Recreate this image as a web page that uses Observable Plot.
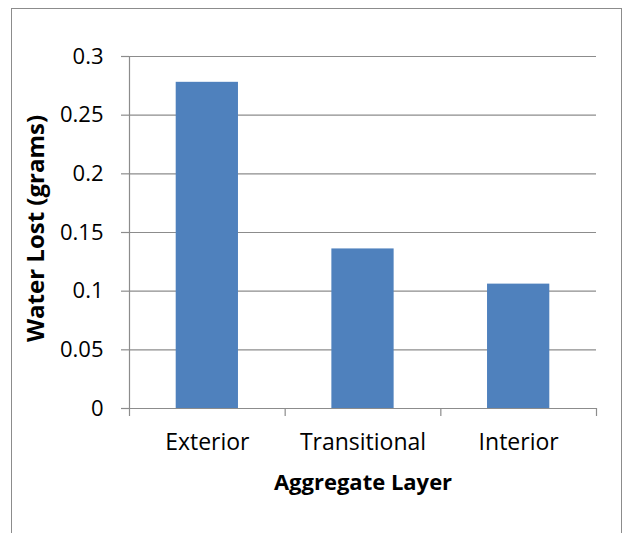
<!DOCTYPE html>
<html>
<head>
<meta charset="utf-8">
<script src="https://cdn.jsdelivr.net/npm/d3@7"></script>
<script src="https://cdn.jsdelivr.net/npm/@observablehq/plot@0.6"></script>
<style>
  html, body { margin: 0; padding: 0; background: #fff; }
  #wrap { position: relative; width: 628px; height: 533px; overflow: hidden; }
  #border { position: absolute; left: 11px; top: 8px; width: 611px; height: 560px; border: 1px solid #8c8c8c; box-sizing: border-box; }
  #chart { position: absolute; left: 0; top: 0; }
</style>
</head>
<body>
<div id="wrap"><div id="border"></div><div id="chart"></div></div>
<script>
const categories = ["Exterior", "Transitional", "Interior"];
const values = [0.278, 0.136, 0.106];
const yTicks = [0, 0.05, 0.1, 0.15, 0.2, 0.25, 0.3];
const xTitle = "Aggregate Layer";
const yTitle = "Water Lost (grams)";

const data = categories.map((c, i) => ({ category: c, index: i, value: values[i] }));
const boundaries = d3.range(categories.length + 1);

const font = "'Open Sans', sans-serif";
const gray = "#8c8c8c";

const chart = Plot.plot({
  width: 628,
  height: 533,
  marginLeft: 129,
  marginRight: 32,
  marginTop: 56,
  marginBottom: 125,
  style: { fontFamily: font, background: "transparent", overflow: "visible" },
  x: { domain: [0, categories.length], axis: null },
  y: { domain: [0, 0.3], axis: null },
  marks: [
    Plot.gridY(yTicks, { stroke: gray, strokeOpacity: 1, strokeWidth: 1.2 }),
    Plot.axisY({ ticks: yTicks, label: null, tickSize: 8, tickPadding: 18, stroke: gray, strokeOpacity: 1, strokeWidth: 1.2,
      tickFormat: d => String(d), fontSize: 22, fill: "#000" }),
    Plot.rectY(data, { x1: d => d.index + 0.3, x2: d => d.index + 0.7, y: "value", fill: "#4F81BD", inset: 0 }),
    Plot.ruleY([0], { stroke: gray, strokeWidth: 1.2 }),
    Plot.ruleX([0], { stroke: gray, strokeWidth: 1.2 }),
    Plot.axisX({ ticks: boundaries, label: null, tickSize: 8, tickFormat: () => "", stroke: gray, strokeOpacity: 1, strokeWidth: 1.2 }),
    Plot.text(data, { x: d => d.index + 0.5, y: 0, text: "category", dy: 34, fontSize: 23, fill: "#000" }),
    Plot.text([xTitle], { frameAnchor: "bottom", dy: 81, fontSize: 22, fontWeight: "bold", fill: "#000" }),
    Plot.text([yTitle], { frameAnchor: "left", textAnchor: "middle", rotate: -90, dx: -93, dy: -4, fontSize: 24, fontWeight: "bold", fill: "#000" })
  ]
});
document.getElementById("chart").appendChild(chart);
</script>
</body>
</html>
